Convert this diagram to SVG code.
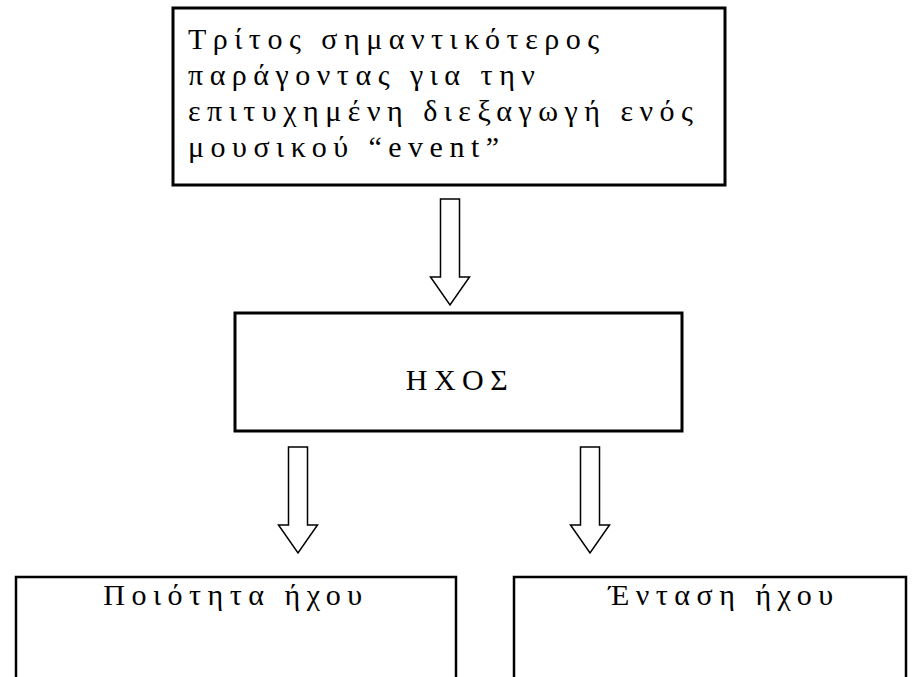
<svg xmlns="http://www.w3.org/2000/svg" width="921" height="677" viewBox="0 0 921 677">
  <style>
    .box { fill: #ffffff; stroke: #000000; stroke-width: 3; }
    .box-open { fill: #ffffff; stroke: #000000; stroke-width: 2.5; }
    .arrow { fill: #ffffff; stroke: #000000; stroke-width: 1.5; stroke-linejoin: miter; }
    .label { font-family: "Liberation Serif", "Times New Roman", serif; font-size: 30px; letter-spacing: 6.5px; fill: #000000; }
  </style>
  <defs>
    <!-- hollow block arrow pointing down, tip at the origin -->
    <path id="down-arrow" d="M -9.5 -106 L 9.5 -106 L 9.5 -28 L 19.5 -28 L 0 0 L -19.5 -28 L -9.5 -28 Z"/>
  </defs>

  <rect width="921" height="677" fill="#ffffff"/>

  <g id="connectors">
    <use href="#down-arrow" class="arrow" x="450" y="305"/>
    <use href="#down-arrow" class="arrow" x="298" y="553"/>
    <use href="#down-arrow" class="arrow" x="590" y="553"/>
  </g>

  <g id="node-top">
    <rect class="box" x="173" y="8" width="552" height="177"/>
    <text class="label" x="188" y="49">Τρίτος σημαντικότερος</text>
    <text class="label" x="188" y="85">παράγοντας για την</text>
    <text class="label" x="188" y="121">επιτυχημένη διεξαγωγή ενός</text>
    <text class="label" x="188" y="157">μουσικού “event”</text>
  </g>

  <g id="node-sound">
    <rect class="box" x="235" y="313" width="447" height="118"/>
    <text class="label" x="460" y="390" text-anchor="middle">ΗΧΟΣ</text>
  </g>

  <!-- lower boxes run off the bottom edge, so only three sides show -->
  <g id="node-quality">
    <path class="box-open" d="M 16 680 L 16 577 L 456 577 L 456 680"/>
    <text class="label" x="236" y="605" text-anchor="middle">Ποιότητα ήχου</text>
  </g>

  <g id="node-volume">
    <path class="box-open" d="M 514 680 L 514 577 L 906 577 L 906 680"/>
    <text class="label" x="724" y="605" text-anchor="middle">Ένταση ήχου</text>
  </g>
</svg>
